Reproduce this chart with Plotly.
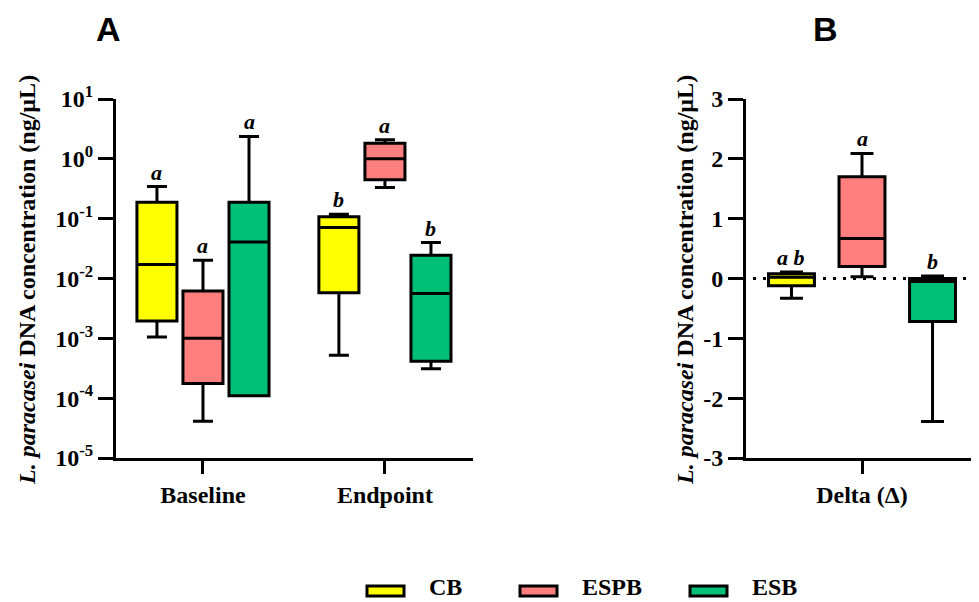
import math
import plotly.graph_objects as go

# ---------------- data ----------------
groups = ["CB", "ESPB", "ESB"]
colors = ["#FFFF00", "#FF7F7F", "#00C077"]
timepoints = ["Baseline", "Endpoint"]
delta_label = ["Delta (Δ)"]

# Panel A (ng/µL), per timepoint [Baseline, Endpoint]
cb_lower = [0.00105, 0.00052]
cb_q1 = [0.00194, 0.0058]
cb_median = [0.0172, 0.071]
cb_q3 = [0.188, 0.108]
cb_upper = [0.344, 0.119]

espb_lower = [4.1e-5, 0.331]
espb_q1 = [0.000175, 0.446]
espb_median = [0.001, 1.0]
espb_q3 = [0.0062, 1.83]
espb_upper = [0.0201, 2.08]

esb_lower = [0.00011, 0.00031]
esb_q1 = [0.00011, 0.000414]
esb_median = [0.0407, 0.00562]
esb_q3 = [0.188, 0.0244]
esb_upper = [2.37, 0.0398]

letters_a_cb = ["a", "b"]
letters_a_espb = ["a", "a"]
letters_a_esb = ["a", "b"]

# Panel B: delta (ng/µL)
delta_lower = [-0.33, 0.03, -2.39]
delta_q1 = [-0.12, 0.20, -0.72]
delta_median = [0.02, 0.67, -0.05]
delta_q3 = [0.08, 1.70, 0.0]
delta_upper = [0.11, 2.09, 0.04]
letters_delta = ["a b", "a", "b"]

ytick_a_vals = [1e-5, 1e-4, 1e-3, 1e-2, 1e-1, 1e0, 1e1]
ytick_a_text = ["10<sup>-5</sup>", "10<sup>-4</sup>", "10<sup>-3</sup>", "10<sup>-2</sup>",
                "10<sup>-1</sup>", "10<sup>0</sup>", "10<sup>1</sup>"]
ytick_b_vals = [-3, -2, -1, 0, 1, 2, 3]
ytick_b_text = ["-3", "-2", "-1", "0", "1", "2", "3"]

# ---------------- layout helpers ----------------
# the page body has an 8px margin, so the figure is placed at (8, 8)
OFF = 8
W, H = 979 - OFF, 602 - OFF
def px(p):
    return (p - OFF) / W
def py(p):
    return 1 - (p - OFF) / H

SERIF = "Liberation Serif"
a_offset, a_width = 0.253, 0.22
b_offset, b_width = 0.304, 0.198

stats_a = [
    (cb_lower, cb_q1, cb_median, cb_q3, cb_upper, letters_a_cb),
    (espb_lower, espb_q1, espb_median, espb_q3, espb_upper, letters_a_espb),
    (esb_lower, esb_q1, esb_median, esb_q3, esb_upper, letters_a_esb),
]

fig = go.Figure()
annotations = []

for k, (lo, q1, med, q3, up, lets) in enumerate(stats_a):
    xs = [i + (k - 1) * a_offset for i in range(len(timepoints))]
    fig.add_trace(go.Box(
        x=xs, lowerfence=lo, q1=q1, median=med, q3=q3, upperfence=up,
        width=a_width, whiskerwidth=0.5, fillcolor=colors[k],
        line=dict(color="black", width=3), boxpoints=False,
        name=groups[k], showlegend=False, xaxis="x", yaxis="y"))
    for i, t in enumerate(lets):
        annotations.append(dict(
            x=xs[i], y=math.log10(up[i]), xref="x", yref="y", text="<b><i>%s</i></b>" % t,
            showarrow=False, yanchor="bottom", xanchor="center", yshift=0,
            font=dict(family=SERIF, size=22, color="black")))

for k in range(len(groups)):
    xb = [(k - 1) * b_offset]
    fig.add_trace(go.Box(
        x=xb, lowerfence=[delta_lower[k]], q1=[delta_q1[k]], median=[delta_median[k]],
        q3=[delta_q3[k]], upperfence=[delta_upper[k]],
        width=b_width, whiskerwidth=0.5, fillcolor=colors[k],
        line=dict(color="black", width=3), boxpoints=False,
        name=groups[k], showlegend=False, xaxis="x2", yaxis="y2"))
    annotations.append(dict(
        x=xb[0], y=delta_upper[k], xref="x2", yref="y2", text="<b><i>%s</i></b>" % letters_delta[k],
        showarrow=False, yanchor="bottom", xanchor="center", yshift=0,
        font=dict(family=SERIF, size=22, color="black")))

ytitle = "<b><i>L. paracasei</i> DNA concentration (ng/µL)</b>"
for xc in (27, 685):
    annotations.append(dict(
        x=px(xc), y=py(280), xref="paper", yref="paper", text=ytitle, textangle=-90,
        showarrow=False, xanchor="center", yanchor="middle",
        font=dict(family=SERIF, size=24, color="black")))

for lab, xc in (("A", 108), ("B", 825)):
    annotations.append(dict(
        x=px(xc), y=1.0, xref="paper", yref="paper", text="<b>%s</b>" % lab,
        showarrow=False, xanchor="center", yanchor="top",
        font=dict(family="Liberation Sans", size=34, color="black")))

# manual legend
shapes = []
legend_sw = [367, 520, 690]
legend_tx = [427, 580, 750]
for k, g in enumerate(groups):
    shapes.append(dict(type="rect", xref="paper", yref="paper",
                       x0=px(legend_sw[k]), x1=px(legend_sw[k] + 37),
                       y0=py(596), y1=py(586),
                       fillcolor=colors[k], line=dict(color="black", width=3)))
    annotations.append(dict(
        x=px(legend_tx[k]), y=0.0, xref="paper", yref="paper", text="<b>%s</b>" % g,
        showarrow=False, xanchor="left", yanchor="bottom",
        font=dict(family=SERIF, size=24, color="black")))

# dotted zero line in panel B
shapes.append(dict(type="line", xref="paper", yref="y2", x0=px(753), x1=1.0, y0=0, y1=0,
                   line=dict(color="black", width=3, dash="3px,7px"), layer="below"))

axis_common = dict(showline=True, linecolor="black", linewidth=3, ticks="outside",
                   tickwidth=3, tickcolor="black", showgrid=False, zeroline=False,
                   automargin=False,
                   tickfont=dict(family=SERIF, size=24, color="black", weight="bold"))

ydom = [py(458), py(99)]
fig.update_layout(
    width=W, height=H, autosize=False,
    margin=dict(l=0, r=0, t=0, b=0, pad=0),
    paper_bgcolor="white", plot_bgcolor="white",
    showlegend=False,
    xaxis=dict(domain=[px(116), px(473)], range=[-0.478, 1.484],
               tickvals=list(range(len(timepoints))), ticktext=timepoints,
               ticklen=13, anchor="y", **axis_common),
    yaxis=dict(domain=ydom, type="log", range=[-5, 1],
               tickvals=ytick_a_vals, ticktext=ytick_a_text,
               ticklen=15, anchor="x", **axis_common),
    xaxis2=dict(domain=[px(746), px(978)], range=[-0.5, 0.5],
                tickvals=[0], ticktext=delta_label,
                ticklen=13, anchor="y2", **axis_common),
    yaxis2=dict(domain=ydom, range=[-3, 3],
                tickvals=ytick_b_vals, ticktext=ytick_b_text,
                ticklen=15, anchor="x2", **axis_common),
    annotations=annotations,
    shapes=shapes,
)

fig.write_html("out.html")
